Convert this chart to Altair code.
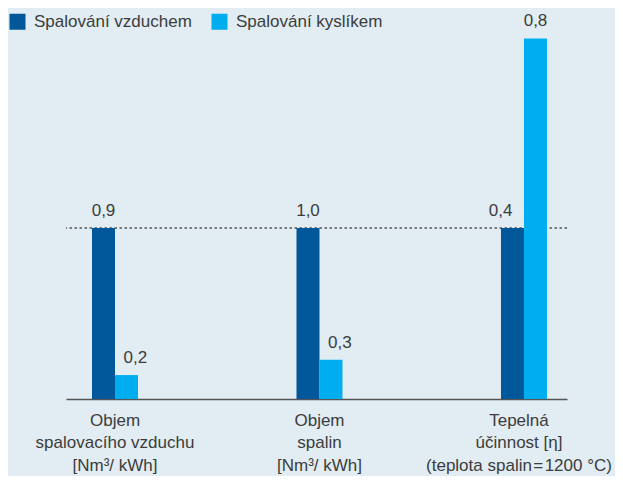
import altair as alt
import pandas as pd

categories = [
    "Objem\nspalovacího vzduchu\n[Nm³/ kWh]",
    "Objem\nspalin\n[Nm³/ kWh]",
    "Tepelná\núčinnost [η]\n(teplota spalin\u200a=\u200a1200 °C)",
]
series = ["Spalování vzduchem", "Spalování kyslíkem"]
air_values = [0.9, 1.0, 0.4]
oxy_values = [0.2, 0.3, 0.8]
# relative bar heights as drawn (air = reference 1.0)
air_heights = [1.0, 1.0, 1.0]
oxy_heights = [0.14, 0.23, 2.11]
reference_level = [1.0]

colors = ["#00589a", "#00aeef"]
FONT = "Liberation Sans"
TEXT = "#3c3c3c"
FS = 17

rows = []
for c, av, ah, ov, oh in zip(categories, air_values, air_heights, oxy_values, oxy_heights):
    rows.append({"cat": c, "series": series[0], "value": av, "height": ah})
    rows.append({"cat": c, "series": series[1], "value": ov, "height": oh})
df = pd.DataFrame(rows)
ref_df = pd.DataFrame({"level": reference_level})

x_enc = alt.X(
    "cat:N",
    sort=categories,
    scale=alt.Scale(paddingInner=0.775, paddingOuter=0.1125, align=0.565),
    axis=alt.Axis(
        title=None,
        labelAngle=0,
        labelExpr="split(datum.label, '\\n')",
        labelFont=FONT,
        labelFontSize=FS,
        labelColor=TEXT,
        labelLineHeight=22.5,
        labelBaseline="alphabetic",
        labelPadding=26,
        labelOffset={"condition": {"test": "indexof(datum.value, 'Tepelná') >= 0", "value": -5}, "value": 0},
        ticks=False,
        domainColor="#555555",
        domainWidth=1.5,
        labelLimit=300,
    ),
)
xoff = alt.XOffset("series:N", sort=series, scale=alt.Scale(paddingInner=0, paddingOuter=0))
y_scale = alt.Scale(domain=[0, 2.2], nice=False, zero=True)

rule = alt.Chart(ref_df).mark_rule(
    color="#555555", strokeDash=[2.5, 2.5], strokeWidth=1.5
).encode(y=alt.Y("level:Q", scale=y_scale, axis=None))

bars = alt.Chart(df).mark_bar(size=23).encode(
    x=x_enc,
    xOffset=xoff,
    y=alt.Y("height:Q", scale=y_scale, axis=None),
    color=alt.Color(
        "series:N",
        sort=series,
        scale=alt.Scale(domain=series, range=colors),
        legend=alt.Legend(
            title=None,
            orient="none",
            legendX=-57,
            legendY=-10,
            direction="horizontal",
            symbolType="square",
            symbolSize=256,
            symbolStrokeWidth=0,
            labelFont=FONT,
            labelFontSize=FS,
            labelColor=TEXT,
            labelOffset=8,
            columnPadding=19,
        ),
    ),
)

label_base = (
    alt.Chart(df)
    .transform_joinaggregate(maxh="max(height)", groupby=["cat"])
    .transform_calculate(label="replace(format(datum.value, '.1f'), '.', ',')")
)
enc = dict(
    x=x_enc,
    xOffset=xoff,
    y=alt.Y("height:Q", scale=y_scale, axis=None),
    text=alt.Text("label:N"),
)
text_style = dict(font=FONT, fontSize=FS, color=TEXT, baseline="alphabetic", dy=-12)

labels_center = label_base.transform_filter("datum.height >= datum.maxh").mark_text(
    align="center", **text_style
).encode(**enc)
labels_air_short = label_base.transform_filter(
    f"datum.height < datum.maxh && datum.series == '{series[0]}'"
).mark_text(align="right", **text_style).encode(**enc)
labels_oxy_short = label_base.transform_filter(
    f"datum.height < datum.maxh && datum.series == '{series[1]}'"
).mark_text(align="left", dx=-3, **text_style).encode(**enc)

chart = (
    alt.layer(rule, bars, labels_center, labels_air_short, labels_oxy_short)
    .properties(
        width=501,
        height=376,
        background="#e1ecf3",
        padding={"left": 58, "top": 15, "right": 48, "bottom": 77},
        autosize=alt.AutoSizeParams(type="none"),
    )
    .configure_view(stroke=None)
)

chart.save("out.html", embed_options={"renderer": "svg", "actions": False})
